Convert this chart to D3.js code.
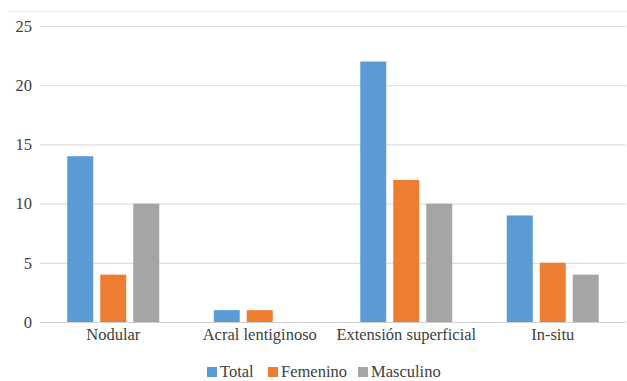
<!DOCTYPE html>
<html>
<head>
<meta charset="utf-8">
<script src="https://cdn.jsdelivr.net/npm/d3@7"></script>
<style>
  html, body { margin: 0; padding: 0; background: #fff; }
  svg { display: block; }
</style>
</head>
<body>
<svg id="chart" width="627" height="381"></svg>
<script>
// Melanoma subtypes by sex
const categories = ["Nodular", "Acral lentiginoso", "Extensión superficial", "In-situ"];
const seriesNames = ["Total", "Femenino", "Masculino"];
const totalValues = [14, 1, 22, 9];
const femeninoValues = [4, 1, 12, 5];
const masculinoValues = [10, 0, 10, 4];
const yTicks = [0, 5, 10, 15, 20, 25];
const colors = ["#5B9BD5", "#ED7D31", "#A5A5A5"];

const seriesValues = [totalValues, femeninoValues, masculinoValues];
const FONT = "Liberation Serif";
const TEXT_COLOR = "#404040";
const FONT_SIZE = "16.5px";

const svg = d3.select("#chart");
const margin = { left: 40, right: 1, top: 26, bottom: 59 };
const W = 627, H = 381;

// frame line at the top of the chart area
svg.append("line")
  .attr("x1", 8).attr("x2", W).attr("y1", 11.5).attr("y2", 11.5)
  .attr("stroke", "#ececec").attr("stroke-width", 1);

const x0 = d3.scaleBand()
  .domain(categories)
  .range([margin.left, W - margin.right])
  .padding(0);

const x1 = d3.scaleBand()
  .domain(seriesNames)
  .range([-49.5, 49.5])
  .paddingInner(7 / 33)
  .paddingOuter(3.5 / 33);

const y = d3.scaleLinear()
  .domain([0, 25])
  .range([H - margin.bottom, margin.top]);

function styleText(sel) {
  sel.attr("font-family", null)
    .attr("style", `font-family:'${FONT}';font-size:${FONT_SIZE};fill:${TEXT_COLOR}`);
}

// gridlines and y labels
const yAxis = d3.axisLeft(y)
  .tickValues(yTicks)
  .tickSize(-(W - margin.right - margin.left))
  .tickPadding(8);

const gy = svg.append("g")
  .attr("transform", `translate(${margin.left},0)`)
  .call(yAxis)
  .attr("font-family", null);
gy.select(".domain").remove();
gy.selectAll(".tick line")
  .attr("stroke", (d) => d === 0 ? "#d0d0d0" : "#dedede")
  .attr("stroke-width", 1.2);
gy.selectAll(".tick text").call(styleText);

// bars
const groups = svg.append("g")
  .selectAll("g")
  .data(categories)
  .join("g")
  .attr("transform", (d) => `translate(${x0(d) + x0.bandwidth() / 2},0)`);

groups.selectAll("rect")
  .data((c, ci) => seriesNames.map((s, si) => ({ s, si, v: seriesValues[si][ci] })))
  .join("rect")
  .filter((d) => d.v > 0)
  .attr("x", (d) => x1(d.s))
  .attr("width", x1.bandwidth())
  .attr("y", (d) => y(d.v))
  .attr("height", (d) => y(0) - y(d.v))
  .attr("fill", (d) => colors[d.si]);

// category axis labels
const xAxis = d3.axisBottom(x0).tickSize(0).tickPadding(6);
const gx = svg.append("g")
  .attr("transform", `translate(0,${y(0)})`)
  .call(xAxis)
  .attr("font-family", null);
gx.select(".domain").remove();
gx.selectAll(".tick text").call(styleText);

// legend
const legendItems = [
  { name: "Total", x: 207 },
  { name: "Femenino", x: 268 },
  { name: "Masculino", x: 358 }
];
const legend = svg.append("g");
legendItems.forEach((it, i) => {
  legend.append("rect")
    .attr("x", it.x).attr("y", 367)
    .attr("width", 10).attr("height", 10)
    .attr("fill", colors[i]);
  legend.append("text")
    .attr("x", it.x + 13).attr("y", 377)
    .text(it.name)
    .call(styleText);
});
</script>
</body>
</html>
